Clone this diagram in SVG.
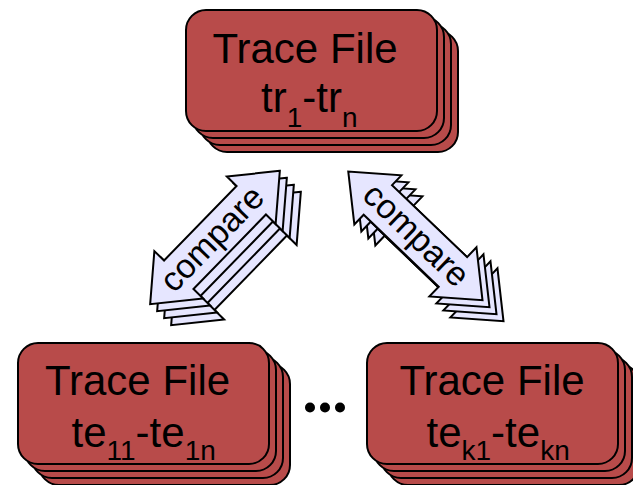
<svg xmlns="http://www.w3.org/2000/svg" width="633" height="485" viewBox="0 0 633 485">
  <defs>
    <style>
      .box { fill: #B84B4A; stroke: #000; stroke-width: 2; }
      .arr { fill: #E6E6FF; stroke: #000; stroke-width: 2; stroke-linejoin: miter; }
      .t { font-family: "Liberation Sans", Arial, sans-serif; font-size: 42px; fill: #000; }
      .sub { font-size: 28px; }
      .lbl { font-family: "Liberation Sans", Arial, sans-serif; font-size: 34px; fill: #000; text-anchor: middle; }
    </style>
    <rect id="card" x="0" y="0" width="251" height="121" rx="20" ry="20"/>
    <polygon id="dbl" points="93,0 52,-34 52,-20.5 -52,-20.5 -52,-34 -93,0 -52,34 -52,20.5 52,20.5 52,34"/>
  </defs>
  <rect width="633" height="485" fill="#fff"/>

  <g id="connectors">
    <g id="compare-left">
      <use href="#dbl" class="arr" transform="translate(236,258.5) rotate(-45.8)"/>
      <use href="#dbl" class="arr" transform="translate(229,251.5) rotate(-45.8)"/>
      <use href="#dbl" class="arr" transform="translate(222,244.5) rotate(-45.8)"/>
      <use href="#dbl" class="arr" transform="translate(215,237.5) rotate(-45.8)"/>
      <text class="lbl" transform="translate(215,237.5) rotate(-45.8)" x="-3" y="10">compare</text>
    </g>
    <g id="compare-right">
      <use href="#dbl" class="arr" transform="translate(436.4,256.9) rotate(43.8)"/>
      <use href="#dbl" class="arr" transform="translate(429.4,249.9) rotate(43.8)"/>
      <use href="#dbl" class="arr" transform="translate(422.4,242.9) rotate(43.8)"/>
      <use href="#dbl" class="arr" transform="translate(415.4,235.9) rotate(43.8)"/>
      <text class="lbl" transform="translate(415.4,235.9) rotate(43.8)" x="0" y="10">compare</text>
    </g>
  </g>

  <g id="node-tr">
    <use href="#card" class="box" x="207" y="31"/>
    <use href="#card" class="box" x="200" y="24"/>
    <use href="#card" class="box" x="193" y="17"/>
    <use href="#card" class="box" x="186" y="10"/>
    <text class="t" x="305" y="63" text-anchor="middle">Trace File</text>
    <text class="t" x="261" y="112">tr<tspan class="sub" dy="15">1</tspan><tspan dy="-15">-tr</tspan><tspan class="sub" dy="15">n</tspan></text>
  </g>

  <g id="node-te1">
    <use href="#card" class="box" x="39" y="364"/>
    <use href="#card" class="box" x="32" y="357"/>
    <use href="#card" class="box" x="25" y="350"/>
    <use href="#card" class="box" x="18" y="343"/>
    <text class="t" x="137.5" y="395" text-anchor="middle">Trace File</text>
    <text class="t" x="71.5" y="447">te<tspan class="sub" dy="13">11</tspan><tspan dy="-13">-te</tspan><tspan class="sub" dy="13">1n</tspan></text>
  </g>

  <g id="node-tek">
    <use href="#card" class="box" x="388" y="364"/>
    <use href="#card" class="box" x="381" y="357"/>
    <use href="#card" class="box" x="374" y="350"/>
    <use href="#card" class="box" x="367" y="343"/>
    <text class="t" x="492" y="395" text-anchor="middle">Trace File</text>
    <text class="t" x="426.5" y="447">te<tspan class="sub" dy="13">k1</tspan><tspan dy="-13">-te</tspan><tspan class="sub" dy="13">kn</tspan></text>
  </g>

  <g id="ellipsis">
    <circle cx="310" cy="407.5" r="5" fill="#000"/>
    <circle cx="325" cy="407.5" r="5" fill="#000"/>
    <circle cx="340" cy="407.5" r="5" fill="#000"/>
  </g>
</svg>
